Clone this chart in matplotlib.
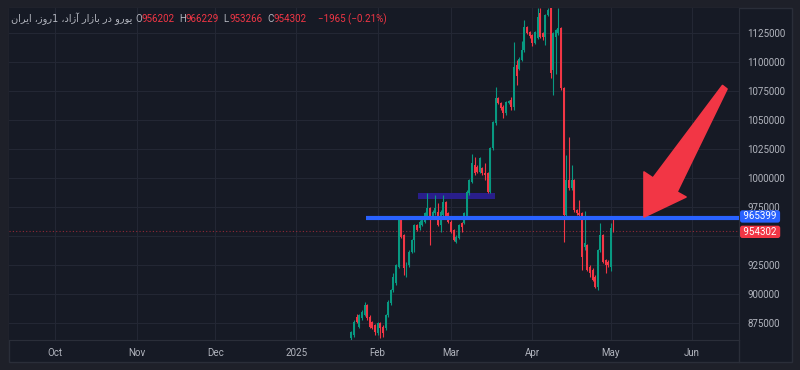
import numpy as np
import pandas as pd
import matplotlib
matplotlib.use('Agg')
import matplotlib.pyplot as plt
import matplotlib.dates as mdates
import matplotlib.transforms as mtransforms
from matplotlib.patches import Rectangle, Polygon
from matplotlib.lines import Line2D

plt.rcParams['font.family'] = ['Roboto', 'DejaVu Sans']

# daily candles (thousands), 2025-01-22 .. 2025-05-02
dates = pd.date_range('2025-01-22', '2025-05-02', freq='D')
opens = [861.8, 864.7, 880.5, 871.8, 879.0, 881.9, 890.5, 880.5, 876.1, 873.3,
         866.1, 874.7, 871.8, 870.4, 881.9, 892.0, 903.4, 909.2, 923.6, 964.4,
         950.9, 922.1, 925.0, 936.5, 946.6, 959.5, 956.6, 959.5, 962.4, 966.7,
         973.9, 966.7, 969.5, 971.0, 959.5, 968.1, 979.6, 969.5, 962.4, 955.2,
         945.1, 948.0, 961.0, 960.9, 966.7, 986.8, 996.8, 1011.2, 1009.8, 1005.5,
         1008.3, 1004.0, 1004.0, 988.2, 1025.6, 1047.1, 1068.7, 1064.4, 1061.5, 1055.7,
         1064.4, 1067.2, 1061.5, 1097.0, 1094.0, 1102.0, 1110.0, 1130.0, 1126.0, 1123.0,
         1116.7, 1120.4, 1142.0, 1124.7, 1121.8, 1140.5, 1146.3, 1093.0, 1121.8, 1124.7,
         1129.0, 1077.3, 968.1, 998.3, 991.1, 998.3, 972.4, 970.0, 969.5, 940.8,
         942.2, 923.6, 920.7, 914.9, 906.3, 938.0, 950.9, 929.3, 927.9, 923.6,
         956.202]
highs = [868.5, 878.0, 883.0, 882.5, 886.0, 893.4, 891.5, 881.5, 877.0, 874.5,
         876.0, 876.0, 873.0, 883.0, 894.5, 904.5, 917.8, 926.0, 966.7, 966.0,
         952.0, 927.5, 937.5, 947.5, 960.5, 960.5, 963.5, 966.0, 970.5, 986.8,
         975.0, 972.0, 985.4, 978.2, 972.0, 985.4, 980.5, 970.5, 963.5, 956.0,
         950.5, 960.5, 962.0, 970.5, 989.5, 999.5, 1021.0, 1018.0, 1011.0, 1018.0,
         1009.5, 1012.6, 1005.0, 1026.5, 1049.5, 1078.7, 1069.5, 1065.5, 1062.5, 1066.8,
         1067.5, 1070.1, 1117.5, 1102.0, 1104.0, 1118.0, 1136.2, 1131.0, 1127.0, 1124.0,
         1127.0, 1146.3, 1146.3, 1125.5, 1141.5, 1146.3, 1148.0, 1125.5, 1128.5, 1146.3,
         1130.0, 1078.5, 1019.8, 1035.6, 1011.2, 999.5, 973.5, 981.0, 970.5, 971.8,
         943.5, 925.0, 922.0, 916.0, 939.0, 960.9, 952.0, 930.5, 929.0, 961.0,
         966.229]
lows = [860.5, 863.0, 875.0, 870.5, 878.0, 881.0, 878.0, 870.5, 869.5, 864.7,
        865.0, 862.0, 863.0, 869.0, 880.5, 890.5, 902.0, 907.5, 922.0, 948.0,
        916.4, 915.0, 923.5, 935.0, 936.5, 954.0, 955.5, 958.5, 961.5, 965.5,
        942.2, 965.5, 968.5, 958.5, 953.7, 967.0, 965.5, 961.5, 952.5, 945.5,
        944.0, 947.0, 953.7, 960.0, 965.5, 985.5, 995.5, 1003.0, 1004.5, 1004.5,
        1003.0, 998.3, 987.0, 987.0, 1024.5, 1046.0, 1063.5, 1059.0, 1051.4, 1054.5,
        1063.5, 1058.6, 1058.6, 1080.0, 1093.0, 1101.0, 1109.0, 1124.0, 1121.0, 1114.0,
        1115.5, 1119.5, 1120.5, 1119.0, 1114.6, 1139.5, 1086.0, 1071.5, 1090.0, 1123.5,
        1076.0, 944.5, 966.5, 990.0, 990.0, 971.0, 968.5, 967.0, 920.7, 938.0,
        919.5, 914.9, 911.0, 904.9, 903.5, 936.5, 926.5, 917.8, 923.5, 920.0,
        953.266]
closes = [867.5, 876.1, 876.1, 881.9, 884.8, 890.5, 879.0, 871.8, 870.4, 867.5,
          874.7, 870.4, 866.1, 881.9, 893.4, 903.4, 915.0, 925.0, 965.2, 949.4,
          922.1, 926.4, 936.5, 946.6, 959.5, 955.2, 962.4, 965.2, 969.5, 973.9,
          965.2, 971.0, 973.9, 959.5, 971.0, 979.6, 966.7, 962.4, 953.7, 946.6,
          949.4, 959.5, 958.1, 969.5, 988.2, 998.3, 1012.6, 1004.0, 1005.5, 1016.9,
          1004.0, 1002.6, 988.2, 1025.6, 1048.6, 1068.7, 1064.4, 1060.0, 1055.7, 1065.8,
          1066.5, 1061.5, 1096.0, 1088.0, 1103.0, 1110.0, 1130.5, 1125.0, 1122.0, 1116.7,
          1126.1, 1139.1, 1121.8, 1121.8, 1140.5, 1145.0, 1090.2, 1124.7, 1127.6, 1129.0,
          1077.3, 968.1, 998.3, 991.1, 998.3, 972.4, 969.5, 968.0, 932.2, 943.7,
          920.7, 917.8, 912.1, 906.3, 937.9, 950.9, 927.9, 925.0, 925.0, 956.6,
          954.302]

level_price = 965399
level_start = '2025-01-27 14:00'
zone_start, zone_end = '2025-02-16 10:00', '2025-03-17 20:00'
zone_low, zone_high = 981900, 987300

header = 'یورو در بازار آزاد، 1روز، ایران'
ohlc_text = [('O', '956202'), ('H', '966229'), ('L', '953266'), ('C', '954302')]
change_text = '\u22121965 (\u22120.21%)'

month_ticks = ['2024-10-01', '2024-11-01', '2024-12-01', '2025-01-01', '2025-02-01',
               '2025-03-01', '2025-04-01', '2025-05-01', '2025-06-01']
month_labels = ['Oct', 'Nov', 'Dec', '2025', 'Feb', 'Mar', 'Apr', 'May', 'Jun']
price_ticks = list(range(875000, 1125001, 25000))
hidden_tick = 950000   # covered by the last-price label on the axis

UP = '#089981'
DOWN = '#f23645'
BLUE = '#2962ff'
TXT = '#b2b5be'
GRID = '#232734'
OUTER = '#1e2029'
INNER = '#161a25'
EDGE = '#2a2e39'

# persian shaping (presentation forms) + visual order
FORMS = {
    'ی': ('\ufbfc', '\ufbfd', '\ufbfe', '\ufbff'),
    'ب': ('\ufe8f', '\ufe90', '\ufe91', '\ufe92'),
    'ن': ('\ufee5', '\ufee6', '\ufee7', '\ufee8'),
    'ا': ('\ufe8d', '\ufe8e', None, None),
    'آ': ('\ufe81', '\ufe82', None, None),
    'د': ('\ufea9', '\ufeaa', None, None),
    'ر': ('\ufead', '\ufeae', None, None),
    'ز': ('\ufeaf', '\ufeb0', None, None),
    'و': ('\ufeed', '\ufeee', None, None),
}

def shape(s):
    out = []
    for i, ch in enumerate(s):
        if ch not in FORMS:
            out.append(ch)
            continue
        f = FORMS[ch]
        prev = s[i-1] if i > 0 else ''
        nxt = s[i+1] if i+1 < len(s) else ''
        jp = prev in FORMS and FORMS[prev][2] is not None
        jn = f[2] is not None and nxt in FORMS
        if jp and jn:
            out.append(f[3])
        elif jp:
            out.append(f[1])
        elif jn:
            out.append(f[2])
        else:
            out.append(f[0])
    return ''.join(out)[::-1]

W, H = 800, 370
fig = plt.figure(figsize=(W/100, H/100), dpi=100, facecolor=OUTER)

def fx(px):
    return px / W

def fy(py):
    return 1 - py / H

# panel
fig.patches.append(Rectangle((fx(9), fy(362)), fx(792)-fx(9), fy(8)-fy(362),
                             transform=fig.transFigure, facecolor=INNER,
                             edgecolor=EDGE, linewidth=1, zorder=-5))

ax = fig.add_axes([fx(9), fy(340), fx(739)-fx(9), fy(8)-fy(340)])
ax.set_facecolor(INNER)

x0 = mdates.date2num(dates[0])
ax.set_xlim(x0 - 130.7, x0 + 147.9)
ax.set_ylim(860345, 1146550)

o = np.array(opens) * 1000
h = np.array(highs) * 1000
l = np.array(lows) * 1000
c = np.array(closes) * 1000
xd = mdates.date2num(dates)
col = np.where(c >= o, UP, DOWN)

ax.add_patch(Rectangle((mdates.date2num(pd.Timestamp(zone_start)), zone_low),
                       mdates.date2num(pd.Timestamp(zone_end)) - mdates.date2num(pd.Timestamp(zone_start)),
                       zone_high - zone_low, facecolor='#2b1f91', edgecolor='none',
                       alpha=0.95, zorder=2))

ax.vlines(xd, l, h, colors=col, linewidth=0.8, zorder=3)
ax.bar(xd, np.maximum(np.abs(c - o), 700), bottom=np.minimum(o, c), width=0.75,
       color=col, linewidth=0, zorder=3)

# last price dotted line
ax.axhline(c[-1], color=DOWN, alpha=0.55, linewidth=0.8, linestyle=(0, (1, 2)), zorder=2)
# horizontal ray
ax.plot([mdates.date2num(pd.Timestamp(level_start)), ax.get_xlim()[1]], [level_price, level_price],
        color=BLUE, linewidth=3, solid_capstyle='butt', zorder=4)

# grid
ax.set_xticks(mdates.date2num(pd.to_datetime(month_ticks)))
ax.set_xticklabels(month_labels)
ax.set_yticks(price_ticks)
ax.set_yticklabels(['' if p == hidden_tick else str(p) for p in price_ticks])
ax.grid(True, color=GRID, linewidth=0.8, zorder=0)
ax.set_axisbelow(True)
ax.yaxis.tick_right()
ax.tick_params(axis='both', length=0, colors=TXT, labelsize=7)
ax.tick_params(axis='y', pad=6)
ax.tick_params(axis='x', pad=6)
for s in ['top', 'left']:
    ax.spines[s].set_visible(False)
ax.spines['right'].set_color(EDGE)
ax.spines['bottom'].set_color(EDGE)

# separator continues into the time strip
fig.lines.append(Line2D([fx(739), fx(739)], [fy(340), fy(362)], transform=fig.transFigure,
                        color=EDGE, linewidth=1))

# price labels on axis (nudged a pixel apart so the boxes just touch)
bl = mtransforms.blended_transform_factory(ax.transAxes, ax.transData)
up_shift = mtransforms.ScaledTranslation(0, 1.2/72, fig.dpi_scale_trans)
dn_shift = mtransforms.ScaledTranslation(0, -0.6/72, fig.dpi_scale_trans)
ax.text(1.003, level_price, ' ' + str(level_price) + ' ', transform=bl + up_shift,
        color='white', fontsize=7, va='center', ha='left', zorder=6, clip_on=False,
        bbox=dict(boxstyle='round,pad=0.12,rounding_size=0.25', fc=BLUE, ec='none'))
ax.text(1.003, c[-1], ' ' + '%d' % round(c[-1]) + ' ', transform=bl + dn_shift,
        color='white', fontsize=7, va='center', ha='left', zorder=6, clip_on=False,
        bbox=dict(boxstyle='round,pad=0.12,rounding_size=0.25', fc=DOWN, ec='none'))

# header
fig.text(fx(132), fy(19), shape(header), color=TXT, fontsize=7, ha='right', va='center',
         family=['DejaVu Sans'])
xpos = 135
for k, v in ohlc_text:
    fig.text(fx(xpos), fy(19), k, color=TXT, fontsize=7, ha='left', va='center')
    fig.text(fx(xpos + 6), fy(19), v, color=DOWN, fontsize=7, ha='left', va='center')
    xpos += 44
fig.text(fx(318), fy(19), change_text, color=DOWN, fontsize=7, ha='left', va='center')

# arrow
arrow_px = [(722.5, 85.5), (727, 89), (677, 192), (686, 197), (644, 217), (644, 172), (653, 178)]
fig.patches.append(Polygon([(fx(px), fy(py)) for px, py in arrow_px], closed=True,
                           transform=fig.transFigure, facecolor=DOWN, edgecolor=DOWN,
                           linewidth=1.2, joinstyle='round', zorder=10))

fig.savefig('out.png', dpi=100, facecolor=OUTER)
